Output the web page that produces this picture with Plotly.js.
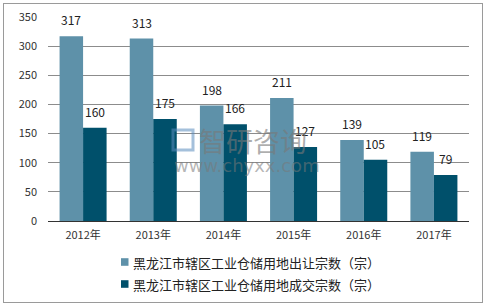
<!DOCTYPE html>
<html>
<head>
<meta charset="utf-8">
<script src="https://cdn.plot.ly/plotly-3.0.1.min.js"></script>
<style>
html,body{margin:0;padding:0;background:#fff;}
#wrap{position:relative;width:484px;height:305px;}
#chart{width:484px;height:305px;}
#frame{position:absolute;left:3px;top:3px;width:478px;height:298px;border:1px solid #9a9a9a;pointer-events:none;}
</style>
</head>
<body>
<div id="wrap"><div id="chart"></div><div id="frame"></div></div>
<script>
const years = ['2012年','2013年','2014年','2015年','2016年','2017年'];
const transferCount = [317, 313, 198, 211, 139, 119];
const dealCount = [160, 175, 166, 127, 105, 79];
const seriesNames = ['黑龙江市辖区工业仓储用地出让宗数（宗）','黑龙江市辖区工业仓储用地成交宗数（宗）'];
const yTicks = [0, 50, 100, 150, 200, 250, 300, 350];

const colors = ['#5E91A9', '#00506B'];
const font = 'Noto Sans CJK SC, Microsoft YaHei, sans-serif';

const W = 484, H = 305;
const M = {l: 48, r: 15, t: 17, b: 84};
const PW = W - M.l - M.r, PH = H - M.t - M.b;
const px = x => (x - M.l) / PW;          // pixel -> paper x
const py = y => (H - M.b - y) / PH;      // pixel -> paper y

const traces = [transferCount, dealCount].map((vals, i) => ({
  type: 'bar',
  x: years,
  y: vals,
  name: seriesNames[i],
  marker: {color: colors[i]},
  hoverinfo: 'none',
  showlegend: false
}));

const annotations = [];
const shapes = [];
[transferCount, dealCount].forEach((vals, i) => {
  vals.forEach((v, j) => {
    annotations.push({
      x: years[j], y: v, xref: 'x', yref: 'y',
      text: String(v), showarrow: false,
      xshift: i === 0 ? -11.7 : 11.7, yanchor: 'bottom', yshift: 6,
      font: {family: font, size: 12, color: '#222'}
    });
  });
});
// legend (manual)
seriesNames.forEach((name, i) => {
  const cy = 262 + i * 22;
  shapes.push({type: 'rect', xref: 'paper', yref: 'paper',
    x0: px(121), x1: px(128.5), y0: py(cy + 3.8), y1: py(cy - 3.8),
    fillcolor: colors[i], line: {width: 0}});
  annotations.push({xref: 'paper', yref: 'paper', x: px(131), y: py(cy),
    xanchor: 'left', yanchor: 'middle', showarrow: false, text: name,
    font: {family: font, size: 13, color: '#222'}});
});
// watermark
annotations.push({xref:'paper', yref:'paper', x:px(197), y:py(140), xanchor:'left', yanchor:'middle', showarrow:false,
  text:'智研咨询', font:{family:font, size:27, color:'rgba(120,120,120,0.6)'}});
annotations.push({xref:'paper', yref:'paper', x:px(172), y:py(165), xanchor:'left', yanchor:'middle', showarrow:false,
  text:'www.chyxx.com', font:{family:'DejaVu Sans, sans-serif', size:18, color:'rgba(120,120,120,0.55)'}});
shapes.push({type:'rect', xref:'paper', yref:'paper', x0:px(173), x1:px(193), y0:py(150), y1:py(130),
  line:{color:'rgba(90,140,190,0.55)', width:3}, fillcolor:'rgba(0,0,0,0)'});

const layout = {
  width: W, height: H,
  margin: M,
  paper_bgcolor: '#fff', plot_bgcolor: '#fff',
  barmode: 'group', bargap: 0.33, bargroupgap: 0,
  font: {family: font, size: 11, color: '#333'},
  xaxis: {
    type: 'category', showline: true, linecolor: '#333', linewidth: 1,
    ticks: '', tickfont: {family: font, size: 11, color: '#333'},
    ticklabelstandoff: 4,
    showgrid: false, fixedrange: true, automargin: false
  },
  yaxis: {
    range: [0, 350], tickvals: yTicks, ticktext: yTicks.map(String),
    showgrid: true, gridcolor: '#8c8c8c', gridwidth: 1,
    zeroline: false, showline: false, ticks: '',
    ticklabelstandoff: 10, automargin: false,
    tickfont: {family: font, size: 11, color: '#333'}, fixedrange: true
  },
  showlegend: false,
  annotations: annotations,
  shapes: shapes
};

Plotly.newPlot('chart', traces, layout, {staticPlot: true, displayModeBar: false});
</script>
</body>
</html>
